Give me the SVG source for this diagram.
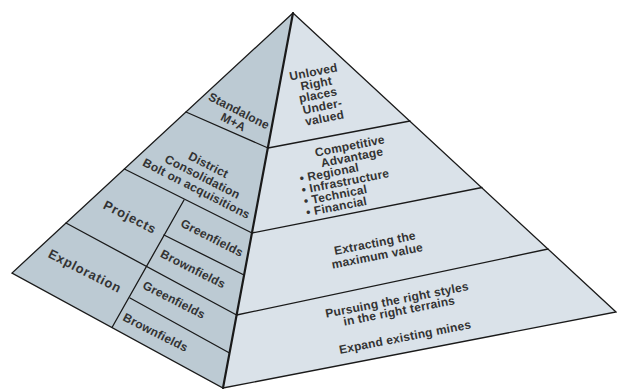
<svg xmlns="http://www.w3.org/2000/svg" width="617" height="390" viewBox="0 0 617 390">
<style>
.t{font-family:"Liberation Sans",Arial,Helvetica,sans-serif;font-weight:bold;font-size:12px;fill:#333;text-anchor:middle;letter-spacing:0.2px}
.big{font-size:13px;letter-spacing:0.8px}
.st{text-anchor:start}
.ln{stroke:#1a1a1a;stroke-width:1.3;fill:none;stroke-linecap:round}
.edge{stroke:#1a1a1a;stroke-width:2.2;fill:none;stroke-linecap:round}
</style>
<rect width="617" height="390" fill="#fff"/>
<g id="faces">
<polygon id="left-face" points="293,13 12,273 223,388" fill="#bccad3"/>
<polygon id="right-face" points="293,13 223,388 616,312" fill="#dae2e9"/>
</g>
<g id="connectors">
<polyline class="ln" points="293,13 12,273 223,388 616,312 293,13"/>
<line class="ln" x1="186" y1="112" x2="268" y2="148"/>
<line class="ln" x1="124.4" y1="169" x2="252" y2="233"/>
<line class="ln" x1="66" y1="223" x2="236.6" y2="315"/>
<line class="ln" x1="164" y1="235" x2="244" y2="275"/>
<line class="ln" x1="130" y1="298" x2="229.5" y2="353"/>
<line class="ln" x1="184" y1="200" x2="112" y2="327.5"/>
<line class="ln" x1="268" y1="148" x2="410" y2="121"/>
<line class="ln" x1="252" y1="233" x2="482" y2="187.5"/>
<line class="ln" x1="236.6" y1="315" x2="548" y2="249"/>
<line class="edge" x1="293" y1="13" x2="223" y2="388"/>
</g>
<g id="standalone" transform="translate(239,111) rotate(27)">
<text class="t" x="0" y="4">Standalone</text>
<text class="t" x="0" y="16.5">M+A</text>
</g>
<g id="district" transform="translate(208.5,165) rotate(27)">
<text class="t" x="0" y="4">District</text>
<text class="t" x="0" y="17.3">Consolidation</text>
<text class="t" x="0" y="30.6">Bolt on acquisitions</text>
</g>
<g id="projects" transform="translate(130,217) rotate(27)">
<text class="t big" x="0" y="4.5">Projects</text>
</g>
<g id="exploration" transform="translate(85,271) rotate(27)">
<text class="t big" x="0" y="4.5">Exploration</text>
</g>
<g id="projects-greenfields" transform="translate(212,238) rotate(27)">
<text class="t" x="0" y="4">Greenfields</text>
</g>
<g id="projects-brownfields" transform="translate(193,269) rotate(27)">
<text class="t" x="0" y="4">Brownfields</text>
</g>
<g id="exploration-greenfields" transform="translate(174,300) rotate(27)">
<text class="t" x="0" y="4">Greenfields</text>
</g>
<g id="exploration-brownfields" transform="translate(155.5,332.5) rotate(27)">
<text class="t" x="0" y="4">Brownfields</text>
</g>
<g id="unloved" transform="translate(318,95) rotate(-11)">
<text class="t" x="0" y="-19.5">Unloved</text>
<text class="t" x="0.5" y="-7.5">Right</text>
<text class="t" x="0" y="4">places</text>
<text class="t" x="2" y="16">Under-</text>
<text class="t" x="2" y="28">valued</text>
</g>
<g id="competitive" transform="translate(350,147) rotate(-11)">
<text class="t" x="0" y="3">Competitive</text>
<text class="t" x="0" y="14.5">Advantage</text>
<text class="t st" x="-55.5" y="25.5">• Regional</text>
<text class="t st" x="-55.5" y="37">• Infrastructure</text>
<text class="t st" x="-55.5" y="48.5">• Technical</text>
<text class="t st" x="-55.5" y="60">• Financial</text>
</g>
<g id="extracting" transform="translate(376,249) rotate(-11)">
<text class="t" x="0" y="-2">Extracting the</text>
<text class="t" x="0" y="11">maximum value</text>
</g>
<g id="pursuing" transform="translate(397,300) rotate(-11)">
<text class="t" x="0" y="4">Pursuing the right styles</text>
<text class="t" x="0" y="15.2">in the right terrains</text>
<text class="t" x="0.8" y="42">Expand existing mines</text>
</g>
</svg>
